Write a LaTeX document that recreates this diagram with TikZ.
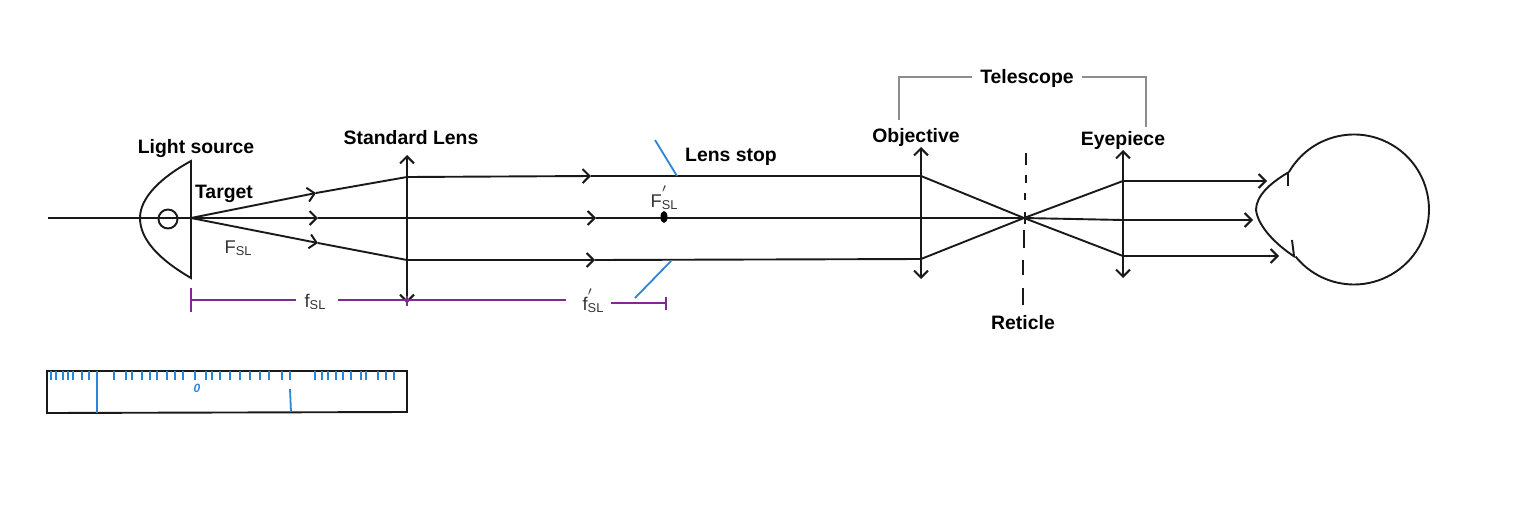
\documentclass[tikz,border=0pt]{standalone}
\usepackage{fontspec}
\usepackage{xcolor}
\setmainfont{Liberation Sans}
\usetikzlibrary{arrows.meta}
\usetikzlibrary{positioning}
\definecolor{scaleblue}{HTML}{2B86D9}
\definecolor{rulepurple}{HTML}{7F2A90}
\tikzset{>={Straight Barb[length=3.5pt,width=7pt,line width=1pt]}}
\tikzset{
  ray/.style={draw=black!90,line width=.95pt},
  lens/.style={ray,<->},
  part/.style={font=\fontsize{9.7}{11}\bfseries\selectfont,inner sep=0pt},
  sym/.style={font=\fontsize{9.2}{11}\selectfont,text=black!80,inner sep=0pt},
  stopline/.style={draw=scaleblue,line width=.9pt},
  dimline/.style={draw=rulepurple,line width=.9pt},
  bracket/.style={draw=black!45,line width=.55pt},
}
\newcommand{\SLsub}{\raisebox{-1pt}{\fontsize{6.4}{7}\selectfont SL}}
\newcommand{\primed}[1]{#1\rlap{\raisebox{3.6pt}{\fontsize{9}{9}\selectfont$'$}}}
\begin{document}
\begin{tikzpicture}[x=.5pt,y=-.5pt]
  \useasboundingbox (0,0) rectangle (1536,504);
  % points on the rays
  \coordinate (start) at (48,218);
  \coordinate (tgt) at (191,218);
  \coordinate (sl-t) at (407,177);
  \coordinate (sl-m) at (407,218);
  \coordinate (sl-b) at (407,260);
  \coordinate (ob-t) at (921,176);
  \coordinate (ob-m) at (921,218);
  \coordinate (ob-b) at (921,259);
  \coordinate (ret) at (1024,218);
  \coordinate (ey-t) at (1123,181);
  \coordinate (ey-m) at (1123,220);
  \coordinate (ey-b) at (1123,256);
  % labels
  \node[part] (source) at (196,149) {Light source};
  \node[part] (target) at (224,194) {Target};
  \node[part] (stdlens) at (411,138) {Standard Lens};
  \node[part] (stop) at (731,157) {Lens stop};
  \node[part] (objective) at (916,137) {Objective};
  \node[part] (telescope) at (1027,78) {Telescope};
  \node[part] (eyepiece) at (1123,140) {Eyepiece};
  \node[part] (reticle) at (1023,323) {Reticle};
  \node[sym] (Fsl) at (238,248) {F\SLsub};
  \node[sym] (Fslp) at (664,198) {\primed{F}\SLsub};
  \node[sym] (fsl) at (315,302) {f\SLsub};
  \node[sym] (fslp) at (593,301) {\primed{f}\SLsub};
  % telescope bracket
  \draw[bracket] (telescope.west)+(-8,-1) -- (899,77) -- (899,120);
  \draw[bracket] (telescope.east)+(8,-1) -- (1146,77) -- (1146,127);
  % lamp
  \draw[ray] (191,161) .. controls (160,178) and (140,198) .. (140,218)
     .. controls (140,240) and (160,260) .. (191,278) -- cycle;
  \node[draw,ray,circle,minimum size=9.5pt,inner sep=0pt] (bulb) at (168,219) {};
  % rays
  \path[ray]
    (start) edge (tgt)
    (tgt) edge[->] (318,218)
    (318,218) edge (sl-m)
    (tgt) edge[->] (316,193)
    (316,193) edge (sl-t)
    (tgt) edge[->] (318,243)
    (318,243) edge (sl-b)
    (sl-t) edge[->] (591,176)
    (591,176) edge (ob-t)
    (sl-m) edge[->] (596,218)
    (596,218) edge (ob-m)
    (sl-b) edge[->] (595,260)
    (595,260) edge (ob-b)
    (ob-m) edge (ret)
    (ob-t) edge (ret)
    (ob-b) edge (ret)
    (ret) edge (ey-t)
    (ret) edge (ey-m)
    (ret) edge (ey-b)
    (ey-t) edge[->] (1267,181)
    (ey-m) edge[->] (1253,220)
    (ey-b) edge[->] (1279,256);
  % lenses
  \draw[lens] (407,155) -- (407,303);
  \draw[lens] (921,147) -- (921,279);
  \draw[lens] (1123,150) -- (1123,278);
  \foreach \a/\b/\c in {153/165/1026,175/183/1026,193/200/1025,212/224/1025,230/248/1024,260/275/1023,288/305/1023}
    \draw[ray] (\c,\a) -- (\c,\b);
  % lens stop and focus
  \draw[stopline] (655,140) -- (677,176);
  \draw[stopline] (671,261) -- (635,298);
  \fill (664,217) ellipse [x radius=3.5,y radius=6];
  % focal lengths
  \draw[dimline] (191,288) -- (191,312);
  \draw[dimline] (191,300) -- (296,300);
  \draw[dimline] (338,300) -- (566,300);
  \draw[dimline] (407,296) -- (407,306);
  \draw[dimline] (611,303) -- (666,303);
  \draw[dimline] (666,297) -- (666,310);
  % eye
  \draw[ray] (1289,172) arc [start angle=-150,end angle=141,radius=75];
  \draw[ray] (1289,172) .. controls (1270,183) and (1256,196) .. (1256,210)
     .. controls (1258,226) and (1275,244) .. (1295,257);
  \draw[ray] (1288,172) -- (1288,186);
  \draw[ray] (1292,240) -- (1294,256);
  % scale
  \draw[ray] (47,371) -- (407,371) -- (407,412) -- (47,413) -- cycle;
  \foreach \t in {51,56,63,68,73,82,89,114,126,132,142,150,157,167,175,183,195,206,212,220,230,240,250,260,269,282,290,315,322,328,336,343,351,361,366,378,386,394}
    \draw[stopline] (\t,371) -- (\t,380);
  \draw[stopline] (97,371) -- (97,413);
  \draw[stopline] (290,389) -- (291,412);
  \node[inner sep=0pt,text=scaleblue,font=\fontsize{6}{7}\bfseries\itshape\selectfont] (zero) at (197,388) {0};
\end{tikzpicture}
\end{document}
